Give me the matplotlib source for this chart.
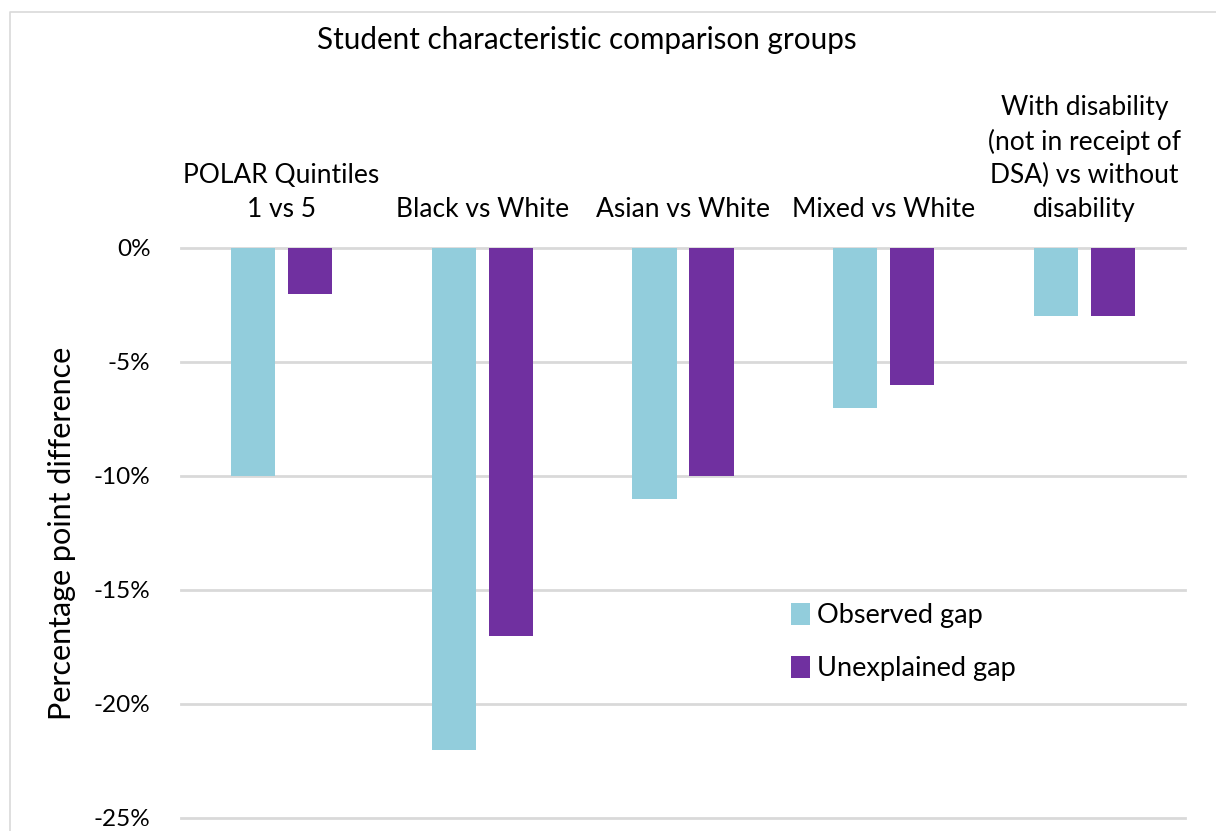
import matplotlib
matplotlib.use("Agg")
import matplotlib.pyplot as plt
from matplotlib.patches import Patch
from matplotlib.lines import Line2D
import numpy as np

categories = [
    "POLAR Quintiles\n1 vs 5",
    "Black vs White",
    "Asian vs White",
    "Mixed vs White",
    "With disability\n(not in receipt of\nDSA) vs without\ndisability",
]
observed_gap = [-10, -22, -11, -7, -3]
unexplained_gap = [-2, -17, -10, -6, -3]
series_names = ["Observed gap", "Unexplained gap"]
series_colors = ["#92CDDC", "#7030A0"]
yticks = [0, -5, -10, -15, -20, -25]

plt.rcParams["font.family"] = ["Lato", "DejaVu Sans"]

W, H = 1216, 831
fig = plt.figure(figsize=(W / 100, H / 100), dpi=100)

def fx(px):
    return px / W

def fy(py):
    return 1 - py / H

ax = fig.add_axes([fx(181), fy(818), fx(1185) - fx(181), fy(248) - fy(818)])

x = np.arange(len(categories))
bw = 0.22
off = 0.142
ax.bar(x - off, observed_gap, width=bw, color=series_colors[0], zorder=3)
ax.bar(x + off, unexplained_gap, width=bw, color=series_colors[1], zorder=3)

ax.set_xlim(-0.5, len(categories) - 0.5)
ax.set_ylim(-25, 0)
ax.set_yticks(yticks)
ax.set_yticklabels([f"{v}%" for v in yticks], fontsize=17.5)
ax.tick_params(axis="y", length=0, pad=22)
ax.set_xticks([])
for s in ax.spines.values():
    s.set_visible(False)
for v in yticks:
    ax.axhline(v, color="#D9D9D9", lw=2, zorder=1, clip_on=False)

# axis title
fig.text(fx(62), fy(533), "Percentage point difference", rotation=90,
         ha="center", va="center", fontsize=22)

for i, lab in enumerate(categories):
    ax.annotate(lab, xy=(i, 0), xytext=(0, 19), textcoords="offset points",
                ha="center", va="bottom", fontsize=19, linespacing=1.42,
                annotation_clip=False)

fig.text(fx(587), fy(40), "Student characteristic comparison groups",
         ha="center", va="center", fontsize=21.3)

handles = [Patch(facecolor=c, edgecolor="none") for c in series_colors]
leg = fig.legend(handles, series_names, loc="center left",
                 bbox_to_anchor=(fx(780), fy(642)), frameon=False,
                 fontsize=19.5, handlelength=0.7, handleheight=0.9,
                 handletextpad=0.25, labelspacing=1.0, borderaxespad=0)

# chart area border
fig.add_artist(Line2D([fx(10), fx(10), fx(1216)], [fy(831), fy(12), fy(12)],
                      transform=fig.transFigure, color="#D9D9D9", lw=1.2))

fig.savefig("out.png", dpi=100)
